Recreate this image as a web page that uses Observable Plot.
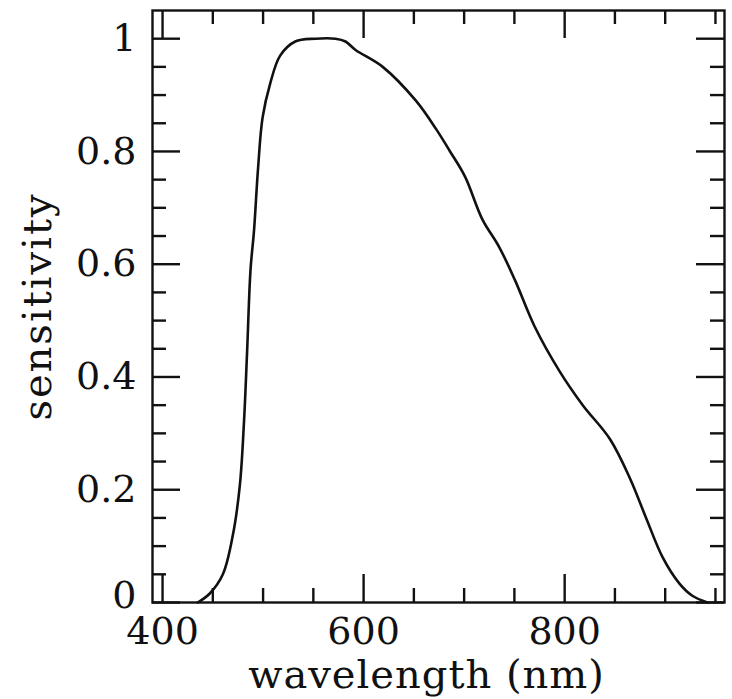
<!DOCTYPE html>
<html>
<head>
<meta charset="utf-8">
<script src="https://cdn.jsdelivr.net/npm/d3@7"></script>
<script src="https://cdn.jsdelivr.net/npm/@observablehq/plot@0.6"></script>
<style>
  html, body { margin: 0; padding: 0; background: #fff; }
  svg { display: block; }
  .xtitle text { letter-spacing: 1px; }
  .ytitle text { letter-spacing: 2px; }
</style>
</head>
<body>
<div id="chart"></div>
<script>
// Sensitivity curve
const wavelength = [435, 447, 460, 470, 477, 481, 484, 487.5, 491, 495, 499.5, 507, 517, 532, 552, 572, 582, 592, 619, 652, 672, 686, 701, 718, 735, 751, 770, 795, 818, 845, 865, 881, 897.5, 914, 927, 942];
const sensitivity = [0, 0.016, 0.05, 0.12, 0.21, 0.32, 0.44, 0.59, 0.66, 0.77, 0.86, 0.92, 0.97, 0.995, 1.0, 1.0, 0.995, 0.98, 0.95, 0.89, 0.84, 0.80, 0.755, 0.68, 0.63, 0.57, 0.49, 0.41, 0.35, 0.29, 0.22, 0.15, 0.08, 0.034, 0.012, 0];

const xMajor = [400, 600, 800];
const xMinor = [450, 500, 550, 650, 700, 750, 850, 900, 950];
const yMajor = [0, 0.2, 0.4, 0.6, 0.8, 1];
const yMinor = [0.05, 0.1, 0.15, 0.25, 0.3, 0.35, 0.45, 0.5, 0.55, 0.65, 0.7, 0.75, 0.85, 0.9, 0.95];
const xTickLabels = ["400", "600", "800"];
const yTickLabels = ["0", "0.2", "0.4", "0.6", "0.8", "1"];
const xTitle = "wavelength (nm)";
const yTitle = "sensitivity";

const data = wavelength.map((w, i) => ({w, s: sensitivity[i]}));
const yLabelRows = yMajor.map((v, i) => ({v, t: yTickLabels[i]}));
const yLabelsUpper = yLabelRows.filter(d => d.v !== 0);
const yLabelZero = yLabelRows.filter(d => d.v === 0);

const W = 732, H = 699;
const mL = 152, mR = 8, mT = 10, mB = 97;
const fw = W - mL - mR, fh = H - mT - mB;
const big = 28, small = 14;
const ink = "#111";
const sw = 2.4;

const plot = Plot.plot({
  width: W,
  height: H,
  marginLeft: mL,
  marginRight: mR,
  marginTop: mT,
  marginBottom: mB,
  style: {fontFamily: "'DejaVu Serif', serif", background: "#fff", color: ink},
  x: {domain: [390, 959], axis: null},
  y: {domain: [0, 1.05], axis: null},
  marks: [
    Plot.frame({stroke: ink, strokeWidth: sw}),
    // bottom ticks
    Plot.ruleX(xMajor, {stroke: ink, strokeWidth: sw, insetTop: fh - big}),
    Plot.ruleX(xMinor, {stroke: ink, strokeWidth: sw, insetTop: fh - small}),
    // top ticks
    Plot.ruleX(xMajor, {stroke: ink, strokeWidth: sw, insetBottom: fh - big}),
    Plot.ruleX(xMinor, {stroke: ink, strokeWidth: sw, insetBottom: fh - small}),
    // left ticks
    Plot.ruleY(yMajor, {stroke: ink, strokeWidth: sw, insetRight: fw - big}),
    Plot.ruleY(yMinor, {stroke: ink, strokeWidth: sw, insetRight: fw - small}),
    // right ticks
    Plot.ruleY(yMajor, {stroke: ink, strokeWidth: sw, insetLeft: fw - big}),
    Plot.ruleY(yMinor, {stroke: ink, strokeWidth: sw, insetLeft: fw - small}),
    Plot.axisX(xMajor, {
      tickSize: 0, tickPadding: 15, fontSize: 38,
      tickFormat: (d, i) => xTickLabels[i],
      label: null
    }),
    // y tick labels (the "0" sits slightly higher, clear of "400")
    Plot.text(yLabelsUpper, {
      y: "v", text: "t", frameAnchor: "left", textAnchor: "end", dx: -16,
      fontSize: 38, fill: ink
    }),
    Plot.text(yLabelZero, {
      y: "v", text: "t", frameAnchor: "left", textAnchor: "end", dx: -16, dy: -7,
      fontSize: 38, fill: ink
    }),
    Plot.text([xTitle], {text: d => d, frameAnchor: "bottom", dx: -12, dy: 85, fontSize: 40, fill: ink, className: "xtitle"}),
    Plot.text([yTitle], {text: d => d, frameAnchor: "left", textAnchor: "middle", dx: -114, rotate: -90, fontSize: 40, fill: ink, className: "ytitle"}),
    Plot.line(data, {x: "w", y: "s", stroke: ink, strokeWidth: 2.6, curve: "catmull-rom"})
  ]
});

document.getElementById("chart").appendChild(plot);
</script>
</body>
</html>
